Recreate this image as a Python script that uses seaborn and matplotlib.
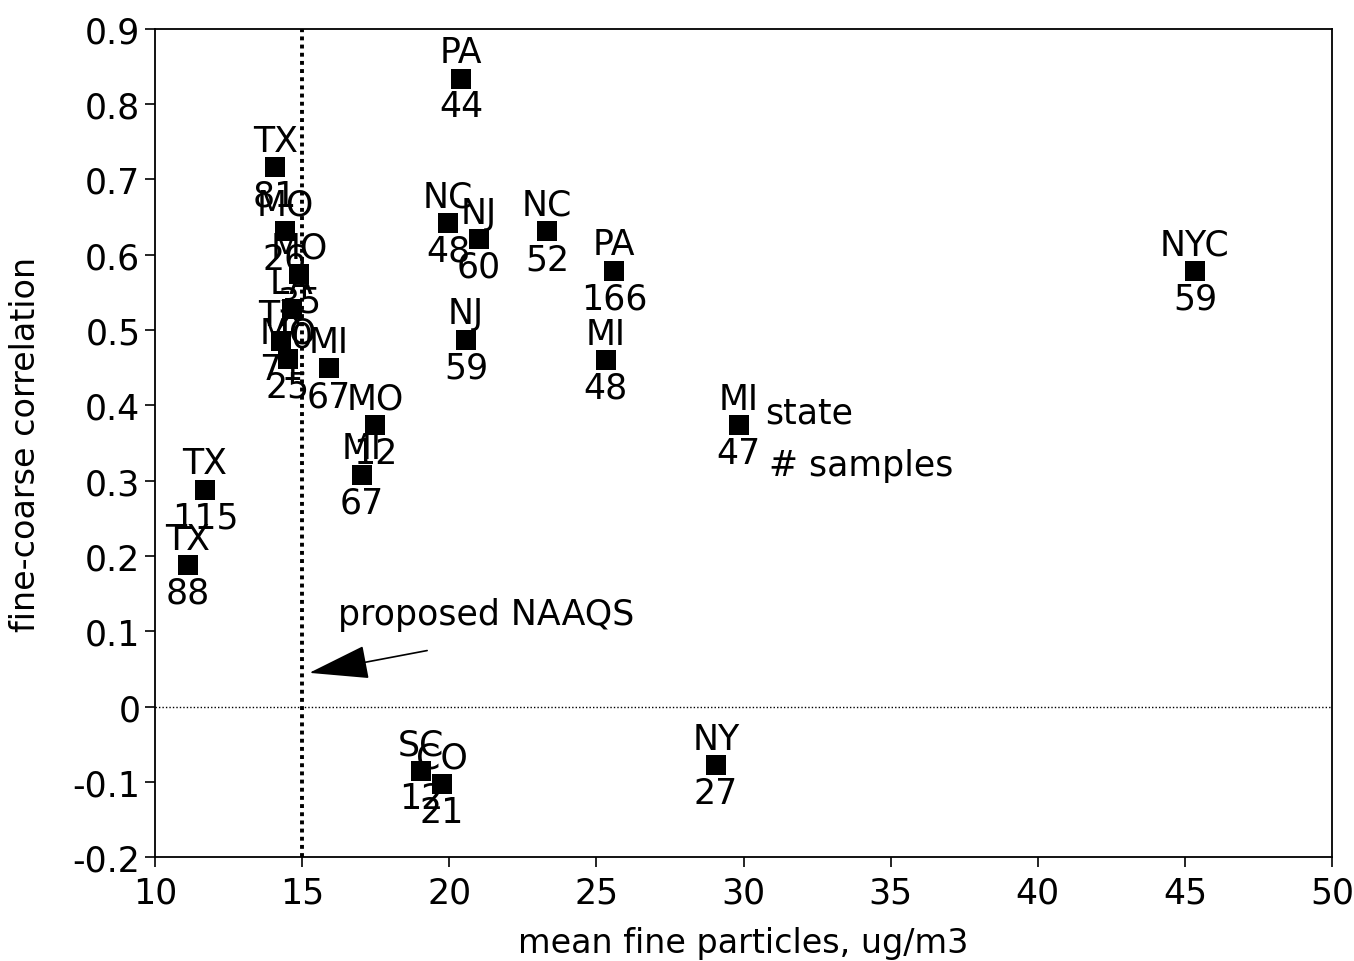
import matplotlib
matplotlib.use("Agg")
import matplotlib.pyplot as plt
import seaborn as sns
import pandas as pd

states = ["PA", "TX", "MO", "MO", "LA", "TX", "MO", "MI", "MO", "MI", "TX", "TX",
          "NC", "NJ", "NC", "PA", "NJ", "MI", "MI", "NYC", "SC", "CO", "NY"]
samples = ["44", "81", "26", "35", "40", "71", "25", "67", "12", "67", "115", "88",
           "48", "60", "52", "166", "59", "48", "47", "59", "12", "21", "27"]
mean_fine = [20.40, 14.08, 14.42, 14.89, 14.65, 14.28, 14.52, 15.91, 17.48, 17.03, 11.70, 11.12,
             19.96, 21.01, 23.32, 25.60, 20.57, 25.32, 29.84, 45.34, 19.04, 19.75, 29.06]
correlation = [0.834, 0.716, 0.632, 0.575, 0.528, 0.485, 0.462, 0.449, 0.374, 0.308, 0.288, 0.188,
               0.642, 0.621, 0.631, 0.579, 0.487, 0.460, 0.374, 0.579, -0.085, -0.103, -0.078]

x_ticks = [10, 15, 20, 25, 30, 35, 40, 45, 50]
y_ticks = [-0.2, -0.1, 0, 0.1, 0.2, 0.3, 0.4, 0.5, 0.6, 0.7, 0.8, 0.9]
y_tick_labels = ["-0.2", "-0.1", "0", "0.1", "0.2", "0.3", "0.4", "0.5", "0.6", "0.7", "0.8", "0.9"]
naaqs = 15.0

df = pd.DataFrame({"x": mean_fine, "y": correlation, "state": states, "n": samples})

sns.set_theme(style="ticks")
plt.rcParams["font.family"] = ["DejaVu Sans"]
plt.rcParams["text.color"] = "black"
plt.rcParams["axes.labelcolor"] = "black"
plt.rcParams["xtick.color"] = "black"
plt.rcParams["ytick.color"] = "black"

fig = plt.figure(figsize=(13.54, 9.62), dpi=100)
ax = fig.add_axes([0.1145, 0.108, 0.8693, 0.861])

sns.scatterplot(data=df, x="x", y="y", marker="s", s=190, color="black",
                edgecolor="black", linewidth=0, ax=ax, zorder=3)

fs = 25
for _, r in df.iterrows():
    ax.annotate(r["state"], (r["x"], r["y"]), xytext=(0, 19), textcoords="offset points",
                ha="center", va="center", fontsize=fs, color="black")
    ax.annotate(r["n"], (r["x"], r["y"]), xytext=(0, -20), textcoords="offset points",
                ha="center", va="center", fontsize=fs, color="black")

ax.axvline(naaqs, color="black", linestyle=(0, (1, 1.1)), linewidth=2.8, zorder=2)
ax.axhline(0, color="black", linestyle=(0, (1, 1.5)), linewidth=1.0, zorder=2)

ax.annotate("", xy=(15.15, 0.044), xytext=(19.34, 0.075),
            arrowprops=dict(arrowstyle="-|>,head_length=3.2,head_width=0.9",
                            color="black", lw=1.2))
ax.text(21.25, 0.123, "proposed NAAQS", ha="center", va="center", fontsize=fs)

ax.text(30.75, 0.39, "state", ha="left", va="center", fontsize=fs)
ax.text(30.85, 0.321, "# samples", ha="left", va="center", fontsize=fs)

ax.set_xlim(10, 50)
ax.set_ylim(-0.2, 0.9)
ax.set_xticks(x_ticks)
ax.set_xticklabels([str(t) for t in x_ticks])
ax.set_yticks(y_ticks)
ax.set_yticklabels(y_tick_labels)
ax.tick_params(axis="both", labelsize=25, direction="out", length=7, width=1.2, colors="black")
ax.tick_params(axis="x", pad=6)
ax.set_xlabel("mean fine particles, ug/m3", fontsize=24, labelpad=12)
ax.set_ylabel("fine-coarse correlation", fontsize=24, labelpad=22)
for sp in ax.spines.values():
    sp.set_visible(True)
    sp.set_color("black")
    sp.set_linewidth(1.3)

fig.savefig("out.png", dpi=100, facecolor="white")
